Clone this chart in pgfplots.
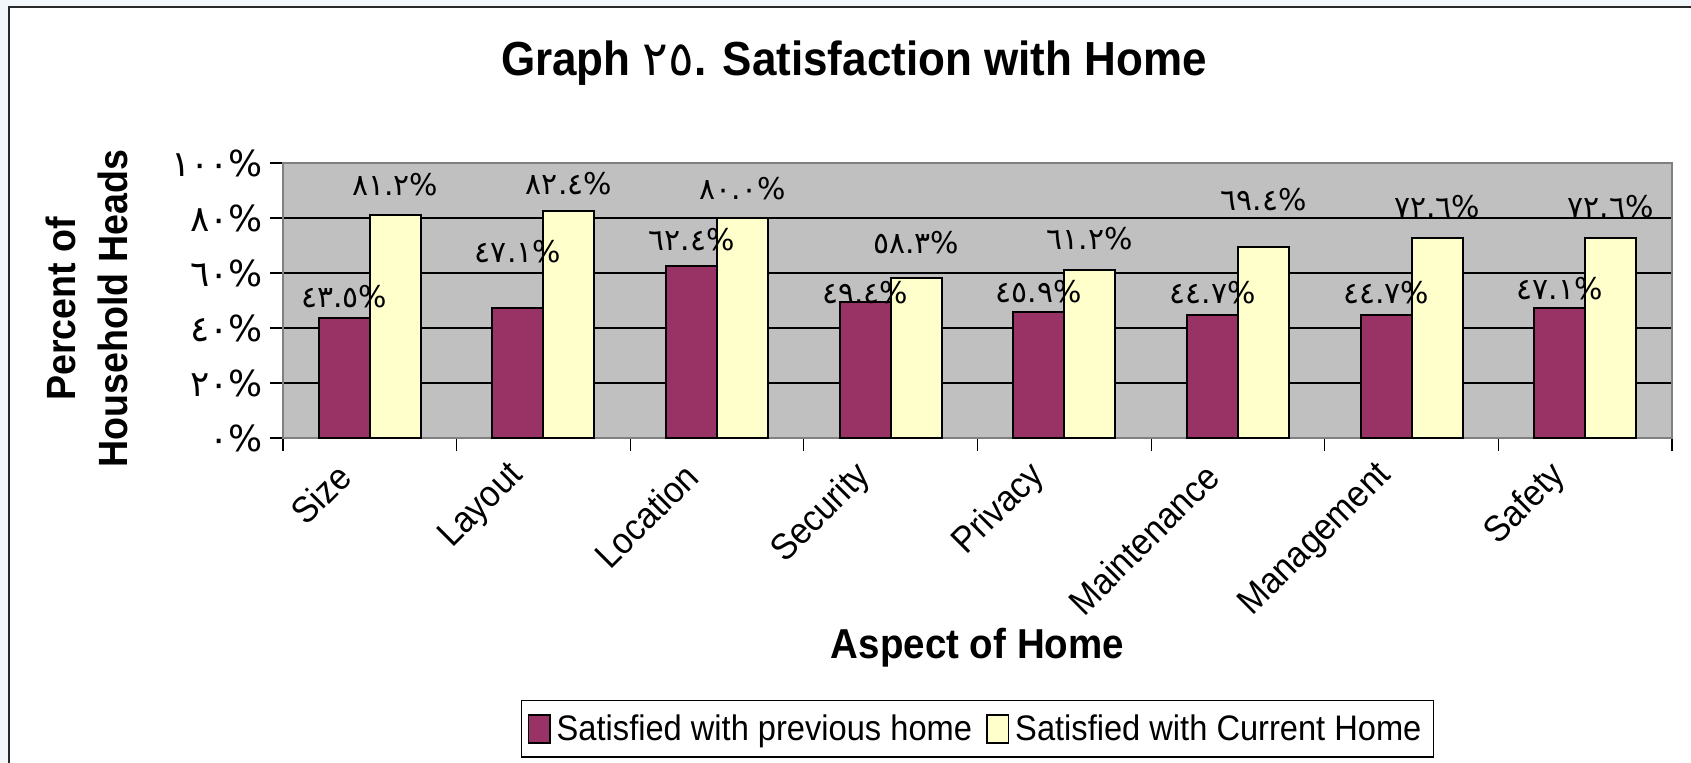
\documentclass[border=0pt]{standalone}
\usepackage{fontspec}
\setmainfont{Liberation Sans}[FakeStretch=0.92]
\newfontfamily\digitfont{DejaVu Sans}
\usepackage{pgfplots}
\usepackage{pgfplotstable}
\pgfplotsset{compat=1.18}

\definecolor{prevcol}{RGB}{153,51,102}
\definecolor{curcol}{RGB}{255,255,204}
\definecolor{plotgray}{RGB}{192,192,192}
\definecolor{framebg}{RGB}{242,247,252}
\definecolor{axisgray}{RGB}{128,128,128}
\definecolor{framedark}{RGB}{40,40,40}

% Arabic-Indic digits for the value labels
\newcommand\ardigit[1]{\if.#1.\else\ifcase#1 ٠\or ١\or ٢\or ٣\or ٤\or ٥\or ٦\or ٧\or ٨\or ٩\fi\fi}
\def\ardigitsloop#1{\ifx\relax#1\else\ardigit{#1}\expandafter\ardigitsloop\fi}
\newcommand\ardigits[1]{\edef\artmp{#1}{\digitfont\expandafter\ardigitsloop\artmp\relax\%}}

% x: category, prev/cur: percent, offp/offc: label lift above bar (bp)
\pgfplotstableread{
x prev cur offp offc
0 43.5 81.2 10.8 15.1
1 47.1 82.4 28.6 14.0
2 62.4 80.0 13.5 14.6
3 49.4 58.3 4.9 17.3
4 45.9 61.2 10.3 15.7
5 44.7 69.4 11.3 23.8
6 44.7 72.6 11.3 15.7
7 47.1 72.6 9.7 15.7
}\datatable

\begin{document}
\begin{tikzpicture}
\fill[framebg] (0,0) rectangle (845.5bp,-381.5bp);
\useasboundingbox (0,0) rectangle (845.5bp,-381.5bp);
\fill[white] (4.5bp,-3.5bp) rectangle (845.5bp,-381.5bp);
\draw[framedark, line width=1.2bp] (4.5bp,-381.5bp) -- (4.5bp,-3.5bp) -- (845.5bp,-3.5bp);

\node[font=\bfseries\fontsize{24}{28}\selectfont] at (427bp,-31.5bp)
  {Graph {\digitfont\mdseries ٢٥}. Satisfaction with Home};

\begin{axis}[
    at={(141.5bp,-219bp)},
    anchor=south west,
    scale only axis,
    width=694.5bp,
    height=137.5bp,
    ybar=0pt,
    bar width=25.5bp,
    xmin=-0.5, xmax=7.5,
    ymin=0, ymax=100,
    axis background/.style={fill=plotgray},
    axis line style={axisgray, line width=1.2bp},
    tick style={black, line width=0.6bp},
    tick align=outside,
    major tick length=6.5bp,
    xtick pos=bottom,
    ytick pos=left,
    ytick={0,20,...,100},
    yticklabels={٠\%,٢٠\%,٤٠\%,٦٠\%,٨٠\%,١٠٠\%},
    yticklabel style={font=\digitfont\fontsize{18}{20}\selectfont},
    ymajorgrids,
    grid style={black, line width=0.6bp},
    xtick={-0.5,0.5,...,7.5},
    xticklabels={},
    extra x ticks={0,1,...,7},
    extra x tick labels={Size,Layout,Location,Security,Privacy,Maintenance,Management,Safety},
    extra x tick style={major tick length=0pt,
        xticklabel style={rotate=45, anchor=east, xshift=-17bp, yshift=-2.4bp,
        font=\fontsize{18.5}{21}\selectfont}},
    xlabel={Aspect of Home},
    xlabel style={font=\bfseries\fontsize{21}{24}\selectfont,
        at={(axis description cs:0.5,-0.764)}, anchor=center},
    ylabel={Percent of\\Household Heads},
    ylabel style={align=center, font=\bfseries\fontsize{20.5}{26}\selectfont,
        at={(axis description cs:-0.141,0.47)}, anchor=center},
    point meta=explicit symbolic,
    nodes near coords={\ardigits{\pgfplotspointmeta}},
    every node near coord/.append style={anchor=center, yshift=\labeloff bp,
        font=\fontsize{15}{17}\selectfont},
    clip=false,
    legend style={at={(axis description cs:0.5,-0.952)}, anchor=north,
        legend columns=2, draw=black, line width=0.75bp,
        inner xsep=3bp, inner ysep=5bp,
        font=\fontsize{17.8}{20}\selectfont,
        nodes={inner xsep=3bp},
        /tikz/every even column/.append style={column sep=4bp}},
    legbox/.style={legend image code/.code={\draw[##1, line width=0.8bp] (0bp,-7bp) rectangle (10.8bp,7bp);}},
]
\addplot[fill=prevcol, draw=black, line width=1bp, legbox,
    visualization depends on={\thisrow{offp} \as \labeloff}]
    table[x=x, y=prev, meta=prev] {\datatable};
\addplot[fill=curcol, draw=black, line width=1bp, legbox,
    visualization depends on={\thisrow{offc} \as \labeloff}]
    table[x=x, y=cur, meta=cur] {\datatable};
\legend{Satisfied with previous home, Satisfied with Current Home}
\end{axis}
\end{tikzpicture}
\end{document}
